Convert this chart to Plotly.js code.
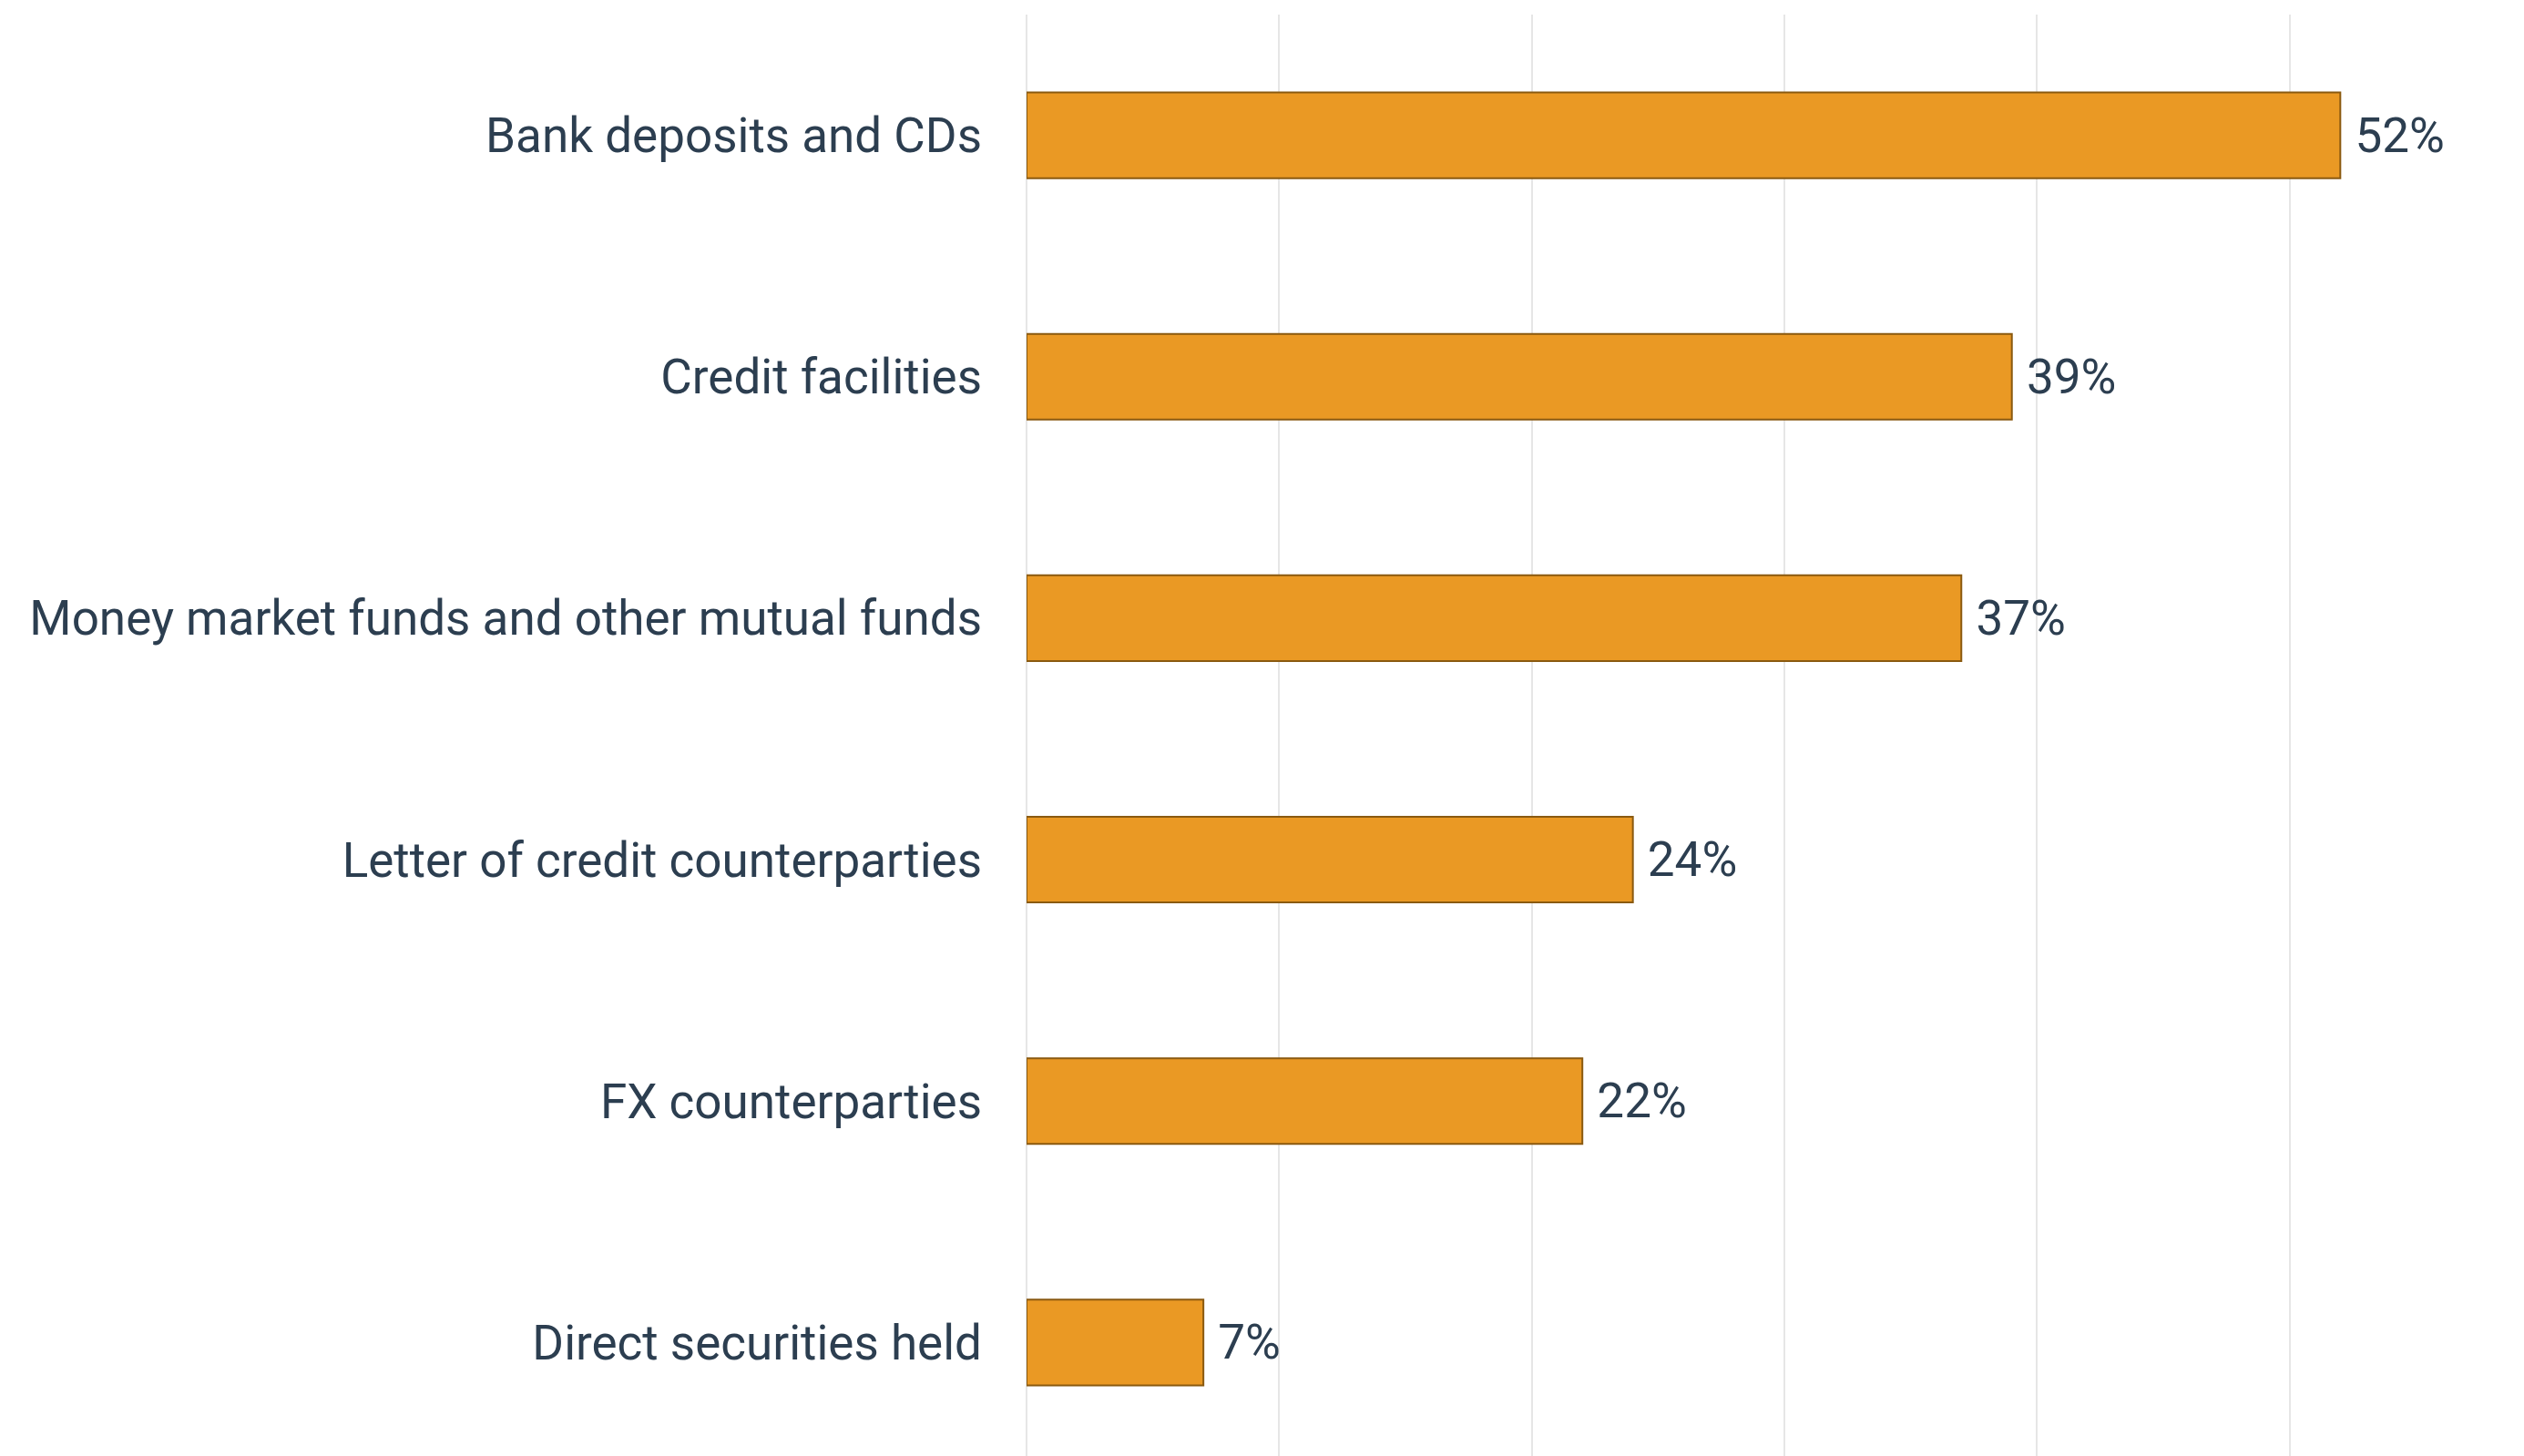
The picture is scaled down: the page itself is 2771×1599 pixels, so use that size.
<!DOCTYPE html>
<html>
<head>
<meta charset="utf-8">
<script src="https://cdn.plot.ly/plotly-3.0.1.min.js"></script>
<style>html,body{margin:0;padding:0;background:#fff;}#chart{width:2771px;height:1599px;}</style>
</head>
<body>
<div id="chart"></div>
<script>
const categories = [
  "Bank deposits and CDs",
  "Credit facilities",
  "Money market funds and other mutual funds",
  "Letter of credit counterparties",
  "FX counterparties",
  "Direct securities held"
];
const values = [52, 39, 37, 24, 22, 7];
const valueLabels = values.map(v => "\u00a0" + v + "%");

const trace = {
  type: "bar",
  orientation: "h",
  x: values,
  y: categories,
  text: valueLabels,
  textposition: "outside",
  cliponaxis: false,
  textfont: {family: "Roboto, sans-serif", size: 53, color: "#2c3e50"},
  marker: {color: "#EA9924", line: {color: "#8a5a10", width: 2}},
  width: 0.355,
  hoverinfo: "skip"
};

const layout = {
  width: 2771,
  height: 1599,
  margin: {l: 1127, r: 63, t: 16, b: 0, pad: 0},
  paper_bgcolor: "#ffffff",
  plot_bgcolor: "#ffffff",
  showlegend: false,
  font: {family: "Roboto, sans-serif", color: "#2c3e50"},
  xaxis: {
    range: [0, 57],
    dtick: 10,
    tick0: 0,
    showticklabels: false,
    showgrid: true,
    gridcolor: "#e6e6e6",
    gridwidth: 2,
    zeroline: true,
    zerolinecolor: "#e6e6e6",
    zerolinewidth: 2,
    showline: false,
    fixedrange: true
  },
  yaxis: {
    type: "category",
    categoryorder: "array",
    categoryarray: categories,
    range: [5.47, -0.5],
    automargin: false,
    showgrid: false,
    zeroline: false,
    showline: false,
    ticks: "",
    ticklabelstandoff: 48,
    tickfont: {family: "Roboto, sans-serif", size: 53, color: "#2c3e50"},
    fixedrange: true
  }
};

Plotly.newPlot("chart", [trace], layout, {displayModeBar: false, staticPlot: true});
</script>
</body>
</html>
